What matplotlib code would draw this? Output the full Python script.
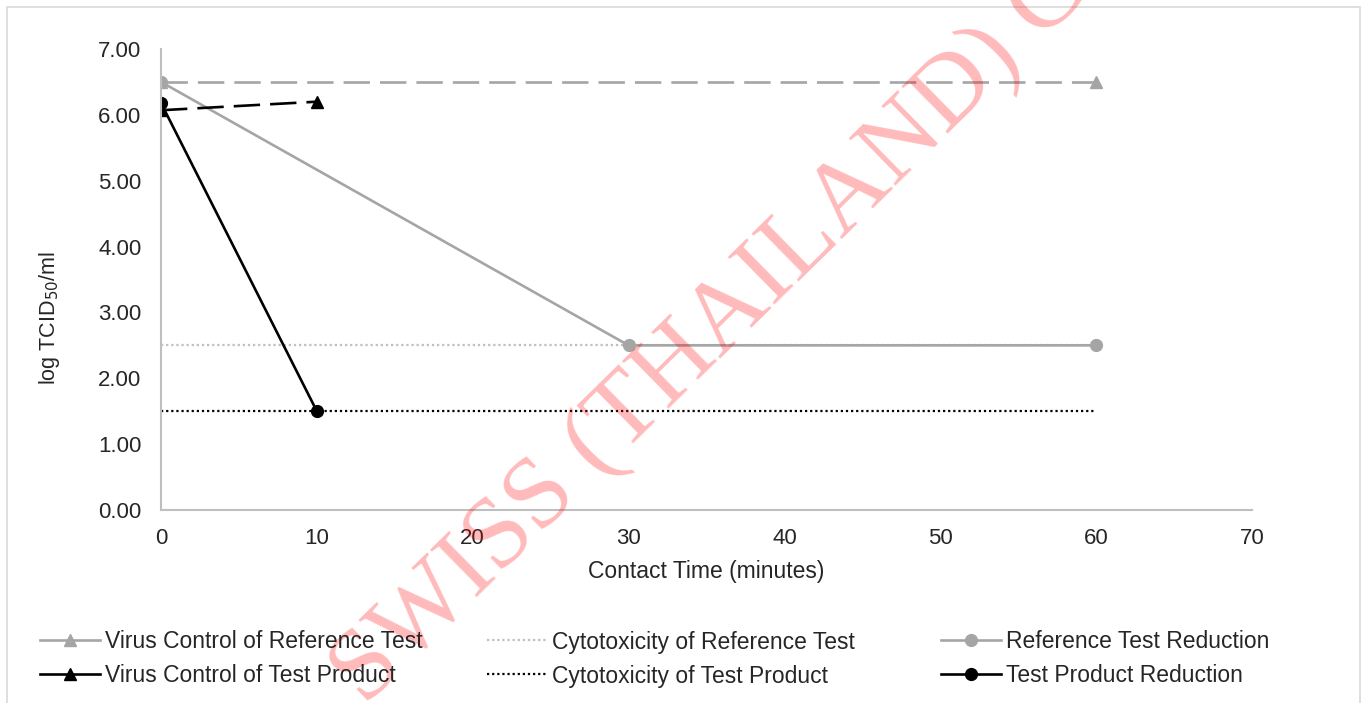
import matplotlib.pyplot as plt
from matplotlib.lines import Line2D

plt.rcParams['font.family'] = ['Liberation Sans', 'DejaVu Sans']

# contact time (minutes) and log TCID50/ml values
ref_vc_x = [0, 60]
ref_vc_y = [6.5, 6.5]
ref_cyto_x = [0, 60]
ref_cyto_y = [2.5, 2.5]
ref_red_x = [0, 30, 60]
ref_red_y = [6.5, 2.5, 2.5]

test_vc_x = [0, 10]
test_vc_y = [6.07, 6.2]
test_cyto_x = [0, 60]
test_cyto_y = [1.5, 1.5]
test_red_x = [0, 10]
test_red_y = [6.18, 1.5]

x_ticks = [0, 10, 20, 30, 40, 50, 60, 70]
y_ticks = [0, 1, 2, 3, 4, 5, 6, 7]

GRAY = '#a5a5a5'
LIGHT = '#bfbfbf'
TXT = '#262626'
LW = 1.9
DASH = (0, (10, 3.8))
DOT = (0, (1, 1.3))

fig = plt.figure(figsize=(13.71, 7.03), dpi=100)
ax = fig.add_axes([161 / 1371, 1 - 510 / 703, (1252 - 161) / 1371, (510 - 49) / 703])

ax.plot(ref_cyto_x, ref_cyto_y, color=LIGHT, lw=1.6, ls=DOT)
ax.plot(test_cyto_x, test_cyto_y, color='black', lw=1.6, ls=DOT)
ax.plot(ref_vc_x, ref_vc_y, color=GRAY, lw=LW, ls=DASH, marker='^', ms=8)
ax.plot(ref_red_x, ref_red_y, color=GRAY, lw=LW, marker='o', ms=8.5)
ax.plot(test_vc_x, test_vc_y, color='black', lw=LW, ls=DASH, marker='^', ms=8)
ax.plot(test_red_x, test_red_y, color='black', lw=LW, marker='o', ms=8.5)

ax.set_xlim(0, 70)
ax.set_ylim(0, 7)
ax.set_xticks(x_ticks)
ax.set_yticks(y_ticks)
ax.set_yticklabels([f'{v:.2f}' for v in y_ticks])
ax.tick_params(length=0, labelsize=16, colors=TXT)
ax.tick_params(axis='y', pad=14)
ax.tick_params(axis='x', pad=13)
for side in ['top', 'right']:
    ax.spines[side].set_visible(False)
for side in ['left', 'bottom']:
    ax.spines[side].set_color('#bfbfbf')
    ax.spines[side].set_linewidth(1.5)

ax.set_xlabel('Contact Time (minutes)', fontsize=16.5, color=TXT, labelpad=8)
ax.set_ylabel('log TCID$_{50}$/ml', fontsize=15.5, color=TXT)
ax.yaxis.set_label_coords(-0.0907, 0.4165)

# legend, three columns placed like the original
cols = [
    (40, [Line2D([], [], color=GRAY, lw=LW, marker='^', ms=8),
          Line2D([], [], color='black', lw=LW, marker='^', ms=8)],
     ['Virus Control of Reference Test', 'Virus Control of Test Product']),
    (487, [Line2D([], [], color=LIGHT, lw=1.6, ls=DOT),
           Line2D([], [], color='black', lw=1.6, ls=DOT)],
     ['Cytotoxicity of Reference Test', 'Cytotoxicity of Test Product']),
    (941, [Line2D([], [], color=GRAY, lw=LW, marker='o', ms=8.5),
           Line2D([], [], color='black', lw=LW, marker='o', ms=8.5)],
     ['Reference Test Reduction', 'Test Product Reduction']),
]
for xpix, handles, labels in cols:
    leg = fig.legend(handles, labels, loc='center left',
                     bbox_to_anchor=(xpix / 1371, 1 - 659 / 703),
                     frameon=False, fontsize=16.5, handlelength=2.6,
                     handletextpad=0.25, labelspacing=0.48, borderpad=0,
                     borderaxespad=0)
    for t in leg.get_texts():
        t.set_color(TXT)

# chart area border
fig.add_artist(plt.Rectangle((7 / 1371, -0.01), (1360 - 7) / 1371, 1 - 7 / 703 + 0.01,
                             transform=fig.transFigure, fill=False,
                             edgecolor='#d9d9d9', lw=1.2))

# watermark
fig.text(366 / 1371, 1 - 708 / 703, 'SWISS (THAILAND) CO., LTD.',
         rotation=44.5, rotation_mode='anchor', ha='left', va='baseline',
         family='Liberation Serif', fontsize=73.5, color=(1.0, 0.0, 0.0, 0.27))

fig.savefig('out.png', dpi=100)
